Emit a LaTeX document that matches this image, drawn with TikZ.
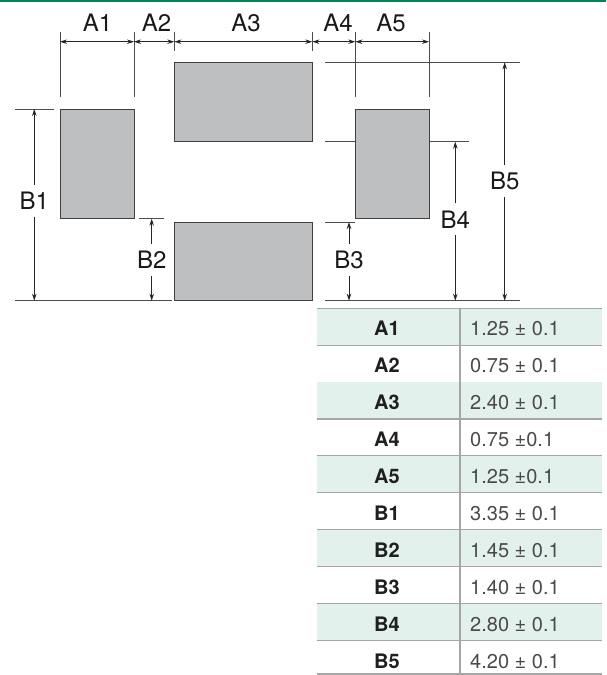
\documentclass[tikz,border=0pt]{standalone}
\usepackage{fontspec}
\setmainfont{TeX Gyre Heros}
\usetikzlibrary{arrows.meta}

\definecolor{padgray}{HTML}{BEBFC1}
\definecolor{rowgreen}{HTML}{E3F1EC}
\definecolor{topgreen}{HTML}{00855A}
\definecolor{rulegray}{HTML}{A6A6A6}
\definecolor{valgray}{HTML}{4A4A4A}

\tikzset{
  pad/.style={draw=black!75, fill=padgray, line width=1pt, inner sep=0pt,
    outer sep=0pt, anchor=north west},
  ext/.style={draw=black!70, line width=0.8pt},
  dim/.style={draw=black!85, line width=0.8pt,
    {Stealth[length=7pt,width=4.5pt]}-{Stealth[length=7pt,width=4.5pt]}},
  half/.style={draw=black!85, line width=0.8pt, -{Stealth[length=7pt,width=4.5pt]}},
  dimlabel/.style={font=\fontsize{24}{24}\selectfont, text=black!90, inner sep=7pt},
  keycell/.style={font=\fontsize{20}{20}\selectfont\bfseries, text=black!88,
    anchor=base, inner sep=0pt},
  valcell/.style={font=\fontsize{20}{20}\selectfont, text=valgray,
    anchor=base west, inner sep=0pt},
}

\begin{document}
\begin{tikzpicture}[x=1pt,y=-1pt]

\newcommand\BASE{300.7}
\newcommand\ROWH{36.9}

  \useasboundingbox (0,0) rectangle (606,675);

  %% top rule
  \draw[topgreen, line width=2pt] (0,1) -- (606,1);

  %% extension lines
  \foreach \x/\len in {60/65, 134/65, 174.3/19, 312.3/19, 355.3/65, 429/65}
    \draw[ext] (\x,32) -- ++(0,\len);
  \draw[ext] (15,109) -- (54,109);
  \draw[ext] (15,\BASE) -- (172,\BASE);
  \draw[ext] (325,\BASE) -- (520,\BASE);
  \draw[ext] (139,218.7) -- (164,218.7);
  \draw[ext] (325,222) -- (355,222);
  \draw[ext] (325,141.7) -- (469,141.7);
  \draw[ext] (325,62.3) -- (520,62.3);

  %% pads
  \node[pad, minimum width=74pt, minimum height=109.7pt] (padL) at (60,109) {};
  \node[pad, minimum width=138pt, minimum height=79.7pt] (padT) at (174.3,62) {};
  \node[pad, minimum width=138pt, minimum height=78.7pt] (padB) at (174.3,222) {};
  \node[pad, minimum width=73.7pt, minimum height=109.7pt] (padR) at (355.3,109) {};

  %% horizontal dimensions
  \foreach \n/\x in {0/60, 1/134, 2/174.3, 3/312.3, 4/355.3, 5/429}
    \coordinate (xA\n) at (\x,41.7);
  \draw[dim] (xA0) -- (xA1);
  \draw[dim] (xA1) -- (xA2);
  \draw[dim] (xA2) -- (xA3);
  \draw[dim] (xA3) -- (xA4);
  \draw[dim] (xA4) -- (xA5);
  \node[dimlabel, anchor=base] (lA1) at (97.5,31.7) {A1};
  \node[dimlabel, anchor=base] (lA2) at (156.5,31.7) {A2};
  \node[dimlabel, anchor=base] (lA3) at (246,31.7) {A3};
  \node[dimlabel, anchor=base] (lA4) at (338,31.7) {A4};
  \node[dimlabel, anchor=base] (lA5) at (391,31.7) {A5};

  %% vertical dimensions
  \foreach \n/\x/\top/\mid in {1/34.3/109/200.7, 2/151.7/218.7/260,
      3/349/222/260, 4/455.3/141.7/219.3, 5/504.7/62.3/180.7}{
    \coordinate (yB\n top) at (\x,\top);
    \coordinate (yB\n bot) at (\x,\BASE);
    \node[dimlabel] (lB\n) at (\x,\mid) {B\n};
    \draw[half] (lB\n) -- (yB\n top);
    \draw[half] (lB\n) -- (yB\n bot);
  }

  %% table
  \foreach \key/\val [count=\i] in {A1/{1.25 ± 0.1}, A2/{0.75 ± 0.1},
      A3/{2.40 ± 0.1}, A4/{0.75 ±0.1}, A5/{1.25 ±0.1}, B1/{3.35 ± 0.1},
      B2/{1.45 ± 0.1}, B3/{1.40 ± 0.1}, B4/{2.80 ± 0.1}, B5/{4.20 ± 0.1}}{
    \pgfmathsetmacro\rtop{308.3+\ROWH*(\i-1)}
    \pgfmathsetmacro\rbot{min(308.3+\ROWH*\i,674)}
    \pgfmathsetmacro\rbase{\rtop+\ROWH/2+9.2}
    \ifodd\i
      \fill[rowgreen] (316.7,\rtop) rectangle (601.7,\rbot);
    \fi
    \draw[rulegray, line width=1.2pt] (316.7,\rbot) -- (601.7,\rbot);
    \node[keycell] (k\i) at (387,\rbase) {\key};
    \node[valcell] (v\i) at (470,\rbase) {\val};
  }
  \draw[rulegray, line width=0.8pt] (316.7,308.3) -- (601.7,308.3);
  \draw[rulegray, line width=1.2pt] (460,308.3) -- (460,674);

\end{tikzpicture}
\end{document}
